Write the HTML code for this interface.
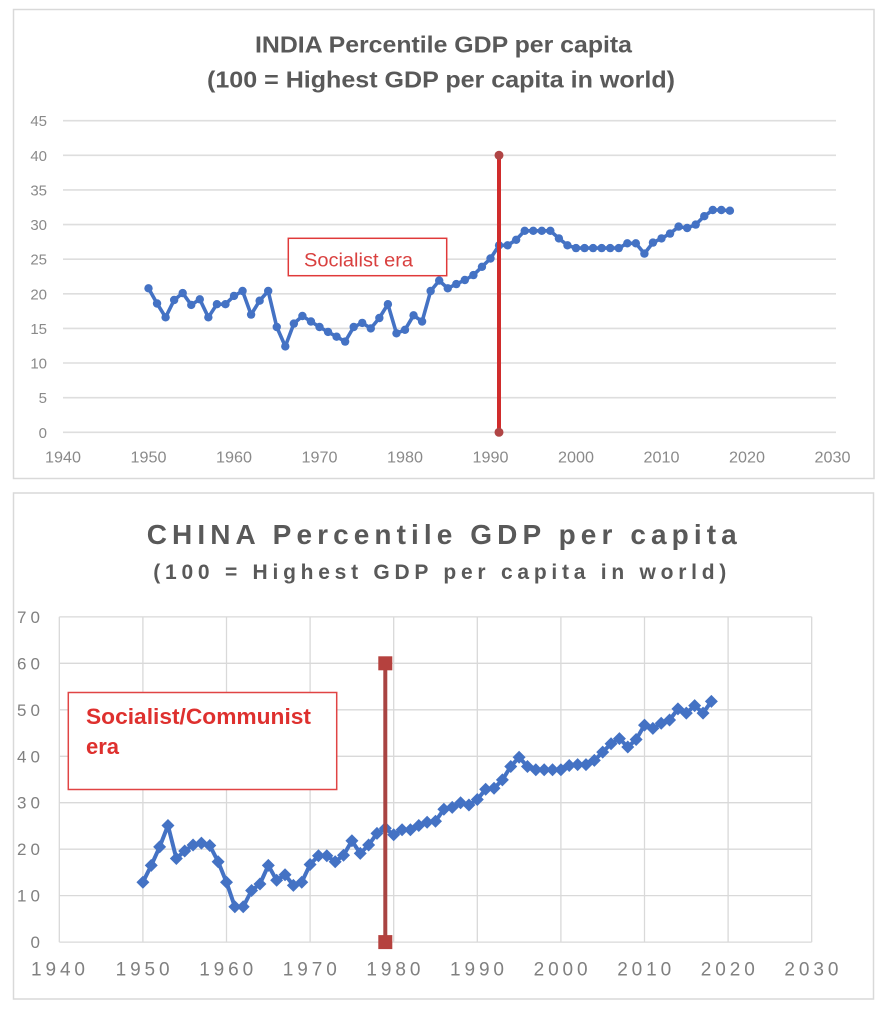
<!DOCTYPE html>
<html><head><meta charset="utf-8"><style>
html,body{margin:0;padding:0;background:#fff;}
svg{display:block;}
text{font-family:"Liberation Sans",Arial,sans-serif;}
</style></head><body>
<svg width="884" height="1010" viewBox="0 0 884 1010" xmlns="http://www.w3.org/2000/svg">
<defs>
<marker id="mc" markerUnits="userSpaceOnUse" markerWidth="12" markerHeight="12" refX="6" refY="6"><circle cx="6" cy="6" r="4.2" fill="#4472c4"/></marker>
<marker id="md" markerUnits="userSpaceOnUse" markerWidth="16" markerHeight="16" refX="8" refY="8"><path d="M8 1.5 L14.5 8 L8 14.5 L1.5 8 Z" fill="#4472c4"/></marker>
</defs>
<rect x="0" y="0" width="884" height="1010" fill="#fff"/>
<!-- TOP CHART -->
<rect x="13.5" y="9.5" width="860.5" height="469" fill="#fff" stroke="#d9d9d9" stroke-width="1.5"/>
<text x="443.5" y="52.5" font-size="23" font-weight="bold" fill="#595959" text-anchor="middle" textLength="377" lengthAdjust="spacingAndGlyphs">INDIA Percentile GDP per capita</text>
<text x="441" y="87.5" font-size="23" font-weight="bold" fill="#595959" text-anchor="middle" textLength="468" lengthAdjust="spacingAndGlyphs">(100 = Highest GDP per capita in world)</text>
<g stroke="#dedede" stroke-width="1.6">
<line x1="63" y1="432.3" x2="836" y2="432.3"/>
<line x1="63" y1="397.7" x2="836" y2="397.7"/>
<line x1="63" y1="363.0" x2="836" y2="363.0"/>
<line x1="63" y1="328.4" x2="836" y2="328.4"/>
<line x1="63" y1="293.8" x2="836" y2="293.8"/>
<line x1="63" y1="259.2" x2="836" y2="259.2"/>
<line x1="63" y1="224.6" x2="836" y2="224.6"/>
<line x1="63" y1="189.9" x2="836" y2="189.9"/>
<line x1="63" y1="155.3" x2="836" y2="155.3"/>
<line x1="63" y1="120.7" x2="836" y2="120.7"/>
</g>
<g font-size="15" fill="#8a8a8a" text-anchor="end">
<text x="47" y="437.8">0</text>
<text x="47" y="403.2">5</text>
<text x="47" y="368.5">10</text>
<text x="47" y="333.9">15</text>
<text x="47" y="299.3">20</text>
<text x="47" y="264.7">25</text>
<text x="47" y="230.1">30</text>
<text x="47" y="195.4">35</text>
<text x="47" y="160.8">40</text>
<text x="47" y="126.2">45</text>
</g>
<g font-size="16" fill="#8a8a8a" text-anchor="middle">
<text x="63" y="462.5" textLength="36" lengthAdjust="spacingAndGlyphs">1940</text>
<text x="148.5" y="462.5" textLength="36" lengthAdjust="spacingAndGlyphs">1950</text>
<text x="234" y="462.5" textLength="36" lengthAdjust="spacingAndGlyphs">1960</text>
<text x="319.5" y="462.5" textLength="36" lengthAdjust="spacingAndGlyphs">1970</text>
<text x="405" y="462.5" textLength="36" lengthAdjust="spacingAndGlyphs">1980</text>
<text x="490.5" y="462.5" textLength="36" lengthAdjust="spacingAndGlyphs">1990</text>
<text x="576" y="462.5" textLength="36" lengthAdjust="spacingAndGlyphs">2000</text>
<text x="661.5" y="462.5" textLength="36" lengthAdjust="spacingAndGlyphs">2010</text>
<text x="747" y="462.5" textLength="36" lengthAdjust="spacingAndGlyphs">2020</text>
<text x="832.5" y="462.5" textLength="36" lengthAdjust="spacingAndGlyphs">2030</text>
</g>
<rect x="288.3" y="238.3" width="158.4" height="37.4" fill="#fff" stroke="#e03a3a" stroke-width="1.5"/>
<text x="304" y="266.5" font-size="19" fill="#d9403f" textLength="109" lengthAdjust="spacingAndGlyphs">Socialist era</text>
<polyline fill="none" stroke="#4472c4" stroke-width="3.6" stroke-linejoin="round" marker-start="url(#mc)" marker-mid="url(#mc)" marker-end="url(#mc)" points="148.5,288.3 157.05,303.5 165.6,317.3 174.15,300.0 182.7,293.1 191.25,304.9 199.8,299.3 208.35,317.3 216.9,304.2 225.45,304.2 234,295.9 242.55,291.0 251.1,314.6 259.65,300.7 268.2,291.0 276.75,327.0 285.3,346.4 293.85,323.6 302.4,316.0 310.95,321.5 319.5,327.0 328.05,331.9 336.6,336.7 345.15,341.6 353.7,327.0 362.25,322.9 370.8,328.4 379.35,318.0 387.9,304.2 396.45,333.3 405,329.8 413.55,315.3 422.1,321.5 430.65,291.0 439.2,280.6 447.75,288.3 456.3,284.1 464.85,280.0 473.4,275.1 481.95,266.8 490.5,258.5 499.05,245.3 507.6,245.3 516.15,239.8 524.7,230.8 533.25,230.8 541.8,230.8 550.35,230.8 558.9,238.4 567.45,245.3 576,248.1 584.55,248.1 593.1,248.1 601.65,248.1 610.2,248.1 618.75,248.1 627.3,243.3 635.85,243.3 644.4,253.6 652.95,242.6 661.5,238.4 670.05,233.6 678.6,226.6 687.15,228.0 695.7,224.6 704.25,216.2 712.8,210.0 721.35,210.0 729.9,210.7"/>
<line x1="499" y1="155.3" x2="499" y2="432.3" stroke="#d02c2c" stroke-width="4"/>
<circle cx="499" cy="155.3" r="4.5" fill="#b04545"/>
<circle cx="499" cy="432.3" r="4.5" fill="#b04545"/>

<!-- BOTTOM CHART -->
<rect x="13.5" y="493" width="860" height="506" fill="#fff" stroke="#d9d9d9" stroke-width="1.5"/>
<text x="146.7" y="544" font-size="28" font-weight="bold" fill="#595959" textLength="590" lengthAdjust="spacing">CHINA Percentile GDP per capita</text>
<text x="153.3" y="579" font-size="21" font-weight="bold" fill="#595959" textLength="573" lengthAdjust="spacing">(100 = Highest GDP per capita in world)</text>
<g stroke="#d9d9d9" stroke-width="1.3">
<line x1="59.3" y1="942.1" x2="811.7" y2="942.1"/>
<line x1="59.3" y1="895.6" x2="811.7" y2="895.6"/>
<line x1="59.3" y1="849.2" x2="811.7" y2="849.2"/>
<line x1="59.3" y1="802.7" x2="811.7" y2="802.7"/>
<line x1="59.3" y1="756.3" x2="811.7" y2="756.3"/>
<line x1="59.3" y1="709.8" x2="811.7" y2="709.8"/>
<line x1="59.3" y1="663.3" x2="811.7" y2="663.3"/>
<line x1="59.3" y1="616.9" x2="811.7" y2="616.9"/>
<line x1="59.3" y1="616.9" x2="59.3" y2="942.1"/>
<line x1="142.9" y1="616.9" x2="142.9" y2="942.1"/>
<line x1="226.5" y1="616.9" x2="226.5" y2="942.1"/>
<line x1="310.1" y1="616.9" x2="310.1" y2="942.1"/>
<line x1="393.7" y1="616.9" x2="393.7" y2="942.1"/>
<line x1="477.3" y1="616.9" x2="477.3" y2="942.1"/>
<line x1="560.9" y1="616.9" x2="560.9" y2="942.1"/>
<line x1="644.5" y1="616.9" x2="644.5" y2="942.1"/>
<line x1="728.1" y1="616.9" x2="728.1" y2="942.1"/>
<line x1="811.7" y1="616.9" x2="811.7" y2="942.1"/>
</g>
<g font-size="17" fill="#808080" text-anchor="end">
<text x="40" y="948">0</text>
<text x="40" y="901.6" textLength="23" lengthAdjust="spacing">10</text>
<text x="40" y="855.2" textLength="23" lengthAdjust="spacing">20</text>
<text x="40" y="808.7" textLength="23" lengthAdjust="spacing">30</text>
<text x="40" y="762.3" textLength="23" lengthAdjust="spacing">40</text>
<text x="40" y="715.8" textLength="23" lengthAdjust="spacing">50</text>
<text x="40" y="669.3" textLength="23" lengthAdjust="spacing">60</text>
<text x="40" y="622.9" textLength="23" lengthAdjust="spacing">70</text>
</g>
<g font-size="19" fill="#808080">
<text x="31" y="975.5" textLength="54" lengthAdjust="spacing">1940</text>
<text x="115.6" y="975.5" textLength="54" lengthAdjust="spacing">1950</text>
<text x="199.2" y="975.5" textLength="54" lengthAdjust="spacing">1960</text>
<text x="282.8" y="975.5" textLength="54" lengthAdjust="spacing">1970</text>
<text x="366.4" y="975.5" textLength="54" lengthAdjust="spacing">1980</text>
<text x="450" y="975.5" textLength="54" lengthAdjust="spacing">1990</text>
<text x="533.6" y="975.5" textLength="54" lengthAdjust="spacing">2000</text>
<text x="617.2" y="975.5" textLength="54" lengthAdjust="spacing">2010</text>
<text x="700.8" y="975.5" textLength="54" lengthAdjust="spacing">2020</text>
<text x="784.4" y="975.5" textLength="54" lengthAdjust="spacing">2030</text>
</g>
<rect x="68.3" y="692.5" width="268.4" height="97" fill="#fff" stroke="#e04444" stroke-width="1.5"/>
<text x="86" y="724" font-size="22" font-weight="bold" fill="#de302e" textLength="225" lengthAdjust="spacingAndGlyphs">Socialist/Communist</text>
<text x="86" y="754" font-size="22" font-weight="bold" fill="#de302e">era</text>
<polyline fill="none" stroke="#4472c4" stroke-width="4" stroke-linejoin="round" marker-start="url(#md)" marker-mid="url(#md)" marker-end="url(#md)" points="142.9,882.2 151.26,865.4 159.62,846.9 167.98,825.5 176.34,858.5 184.7,851.0 193.06,845.0 201.42,843.1 209.78,845.5 218.14,861.7 226.5,882.2 234.86,906.8 243.22,906.8 251.58,890.5 259.94,884.0 268.3,865.4 276.66,880.3 285.02,874.7 293.38,885.4 301.74,882.2 310.1,864.5 318.46,855.7 326.82,855.7 335.18,861.7 343.54,855.2 351.9,840.8 360.26,853.4 368.62,845.0 376.98,833.4 385.34,828.3 393.7,834.8 402.06,829.7 410.42,829.7 418.78,825.5 427.14,822.2 435.5,821.3 443.86,809.2 452.22,807.4 460.58,802.7 468.94,805.0 477.3,799.5 485.66,789.2 494.02,788.3 502.38,779.9 510.74,766.5 519.1,757.2 527.46,766.5 535.82,769.7 544.18,769.7 552.54,769.7 560.9,769.7 569.26,765.5 577.62,764.6 585.98,764.6 594.34,760.4 602.7,752.1 611.06,743.7 619.42,738.6 627.78,747.0 636.14,739.5 644.5,725.1 652.86,728.4 661.22,723.3 669.58,720.0 677.94,708.9 686.3,713.1 694.66,705.6 703.02,713.1 711.38,701.4"/>
<line x1="385.3" y1="663.3" x2="385.3" y2="942.1" stroke="#a94442" stroke-width="4"/>
<rect x="378.3" y="656.3" width="14" height="14" fill="#b5413e"/>
<rect x="378.3" y="935.1" width="14" height="14" fill="#b5413e"/>
</svg>
</body></html>
